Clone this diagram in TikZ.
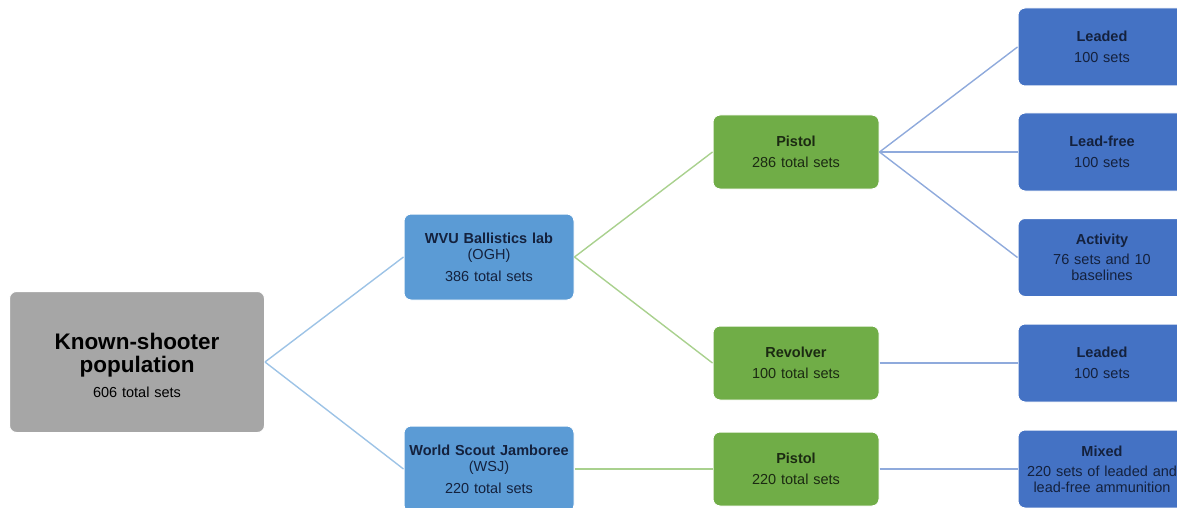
\documentclass[tikz,border=0pt]{standalone}
\usepackage{fontspec}
\setmainfont{Liberation Sans}
\definecolor{popgray}{HTML}{A6A6A6}
\definecolor{labblue}{HTML}{5B9BD5}
\definecolor{gungreen}{HTML}{70AD47}
\definecolor{ammoblue}{HTML}{4472C4}
\definecolor{linkblue}{HTML}{9DC3E6}
\definecolor{linkgreen}{HTML}{A9D18E}
\definecolor{linkdark}{HTML}{8FAADC}
\definecolor{navytext}{HTML}{14213D}
\definecolor{greentext}{HTML}{1B2A12}
\newcommand{\setsfont}{\fontsize{14.5}{16}\selectfont}
\newcommand{\bigtitle}{\fontsize{22.5}{23}\selectfont\bfseries}

\begin{document}
\begin{tikzpicture}[x=1pt,y=-1pt]
  \tikzstyle{boxbase}=[rounded corners=7pt,draw=white,line width=1pt,inner sep=2pt,align=center,font=\setsfont]
  \tikzstyle{popbox}=[boxbase,fill=popgray,minimum width=255pt,minimum height=141pt,text width=250pt,text=black]
  \tikzstyle{labbox}=[boxbase,fill=labblue,minimum width=170pt,minimum height=86pt,text width=166pt,text=navytext]
  \tikzstyle{gunbox}=[boxbase,fill=gungreen,minimum width=166pt,minimum height=74pt,text width=162pt,text=greentext]
  \tikzstyle{ammobox}=[boxbase,fill=ammoblue,minimum width=168pt,minimum height=78pt,text width=164pt,text=navytext]
  \tikzstyle{link}=[line width=1.4pt]

  \useasboundingbox (0,0) rectangle (1177,508);
  \clip (0,0) rectangle (1177,508);

  \node[popbox] (pop) at (137,362) {\rule{0pt}{0pt}\par\vspace{1pt}{\bigtitle Known-shooter\\population\par}\vspace{9pt}606 total sets};

  \node[labbox] (wvu) at (489,257) {{\bfseries WVU Ballistics lab}\\(OGH)\par\vspace{6pt}386 total sets};
  \node[labbox] (wsj) at (489,469) {{\bfseries World Scout Jamboree}\\(WSJ)\par\vspace{6pt}220 total sets};

  \node[gunbox] (pistol) at (796,152) {{\bfseries Pistol}\par\vspace{5pt}286 total sets};
  \node[gunbox] (revolver) at (796,363) {{\bfseries Revolver}\par\vspace{5pt}100 total sets};
  \node[gunbox] (pistolwsj) at (796,469) {{\bfseries Pistol}\par\vspace{5pt}220 total sets};

  \node[ammobox] (leaded) at (1102,47) {{\bfseries Leaded}\par\vspace{5pt}100 sets};
  \node[ammobox] (leadfree) at (1102,152) {{\bfseries Lead-free}\par\vspace{5pt}100 sets};
  \node[ammobox] (activity) at (1102,257.5) {{\bfseries Activity}\par\vspace{4pt}76 sets and 10\\baselines};
  \node[ammobox] (leadedrev) at (1102,363) {{\bfseries Leaded}\par\vspace{5pt}100 sets};
  \node[ammobox] (mixed) at (1102,469) {{\bfseries Mixed}\par\vspace{4pt}220 sets of leaded and\\lead-free ammunition};

  \draw[link,linkblue] (pop.east) -- (wvu.west);
  \draw[link,linkblue] (pop.east) -- (wsj.west);

  \draw[link,linkgreen] (wvu.east) -- (pistol.west);
  \draw[link,linkgreen] (wvu.east) -- (revolver.west);
  \draw[link,linkgreen] (wsj.east) -- (pistolwsj.west);

  \draw[link,linkdark] (pistol.east) -- (leaded.west);
  \draw[link,linkdark] (pistol.east) -- (leadfree.west);
  \draw[link,linkdark] (pistol.east) -- (activity.west);
  \draw[link,linkdark] (revolver.east) -- (leadedrev.west);
  \draw[link,linkdark] (pistolwsj.east) -- (mixed.west);
\end{tikzpicture}
\end{document}
